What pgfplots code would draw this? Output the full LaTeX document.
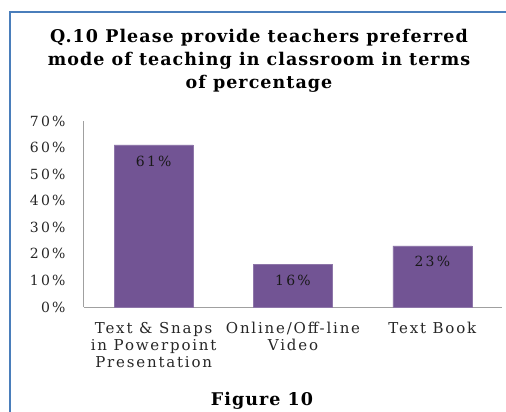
\documentclass[border=0pt]{standalone}
\usepackage{pgfplots}
\pgfplotsset{compat=1.18}
\usepackage{fontspec}
\setmainfont{DejaVu Serif}
\newfontfamily\wideserif[LetterSpace=12]{DejaVu Serif}
\newfontfamily\tickserif[LetterSpace=16]{DejaVu Serif}
\newfontfamily\titleserif[LetterSpace=6]{DejaVu Serif}
\definecolor{barpurple}{RGB}{114,84,148}
\definecolor{framblue}{RGB}{74,126,187}
\definecolor{axgray}{RGB}{160,160,160}
\begin{document}
\begin{tikzpicture}[x=1pt,y=1pt]
\path[use as bounding box] (0,0) rectangle (506,-412);
\draw[framblue,line width=2pt] (506,-12) -- (10,-12) -- (10,-412);
\node[align=center,font=\titleserif\bfseries\fontsize{17.5}{23}\selectfont,anchor=center] at (259,-61)
  {Q.10 Please provide teachers preferred\\mode of teaching in classroom in terms\\of percentage};
\node[font=\titleserif\bfseries\fontsize{17.5}{19}\selectfont] at (262,-401) {Figure 10};
\begin{axis}[
  at={(84pt,-307pt)}, anchor=south west,
  scale only axis, width=418pt, height=186pt,
  ybar, bar width=79pt,
  xmin=-0.5, xmax=2.5, ymin=0, ymax=70,
  xtick=data,
  xticklabels={{Text \& Snaps\\in Powerpoint\\Presentation},{Online/Off-line\\Video},{Text Book}},
  xticklabel style={align=center,font=\wideserif\fontsize{15}{17}\selectfont,anchor=north,yshift=-12pt,text=black!85},
  ytick={0,10,...,70},
  yticklabel={\pgfmathprintnumber{\tick}\%},
  /pgf/number format/assume math mode=true,
  yticklabel style={font=\tickserif\fontsize{14}{14}\selectfont,anchor=east,xshift=-15pt,text=black!85},
  axis x line*=bottom, axis y line*=left,
  axis line style={axgray,line width=1pt},
  x axis line style={-}, y axis line style={-},
  major tick length=0pt,
  tick style={draw=none},
  nodes near coords={\pgfmathprintnumber{\pgfplotspointmeta}\%},
  nodes near coords style={anchor=center,yshift=-16pt,font=\tickserif\fontsize{14}{14}\selectfont,text=black!90},
  clip=false,
]
\addplot[fill=barpurple,draw=barpurple!80!white] coordinates {(0,61) (1,16) (2,23)};
\end{axis}
\end{tikzpicture}
\end{document}
